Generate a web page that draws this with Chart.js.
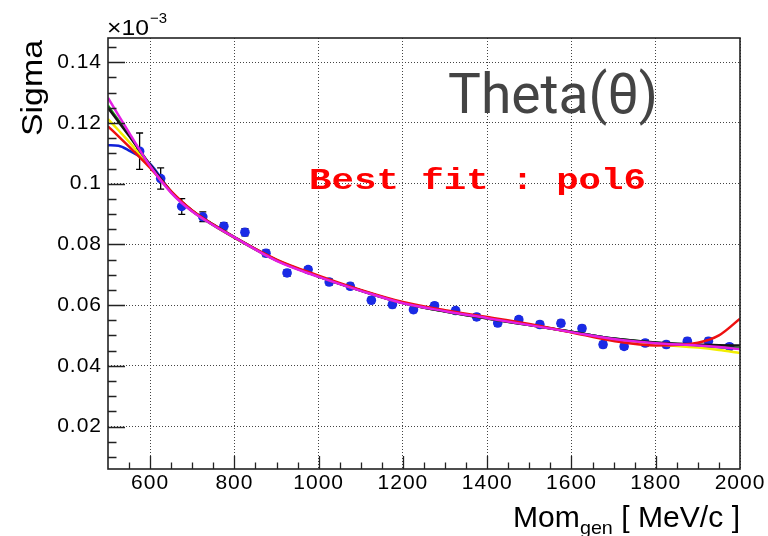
<!DOCTYPE html>
<html>
<head>
<meta charset="utf-8">
<script src="https://cdn.jsdelivr.net/npm/chart.js@4.4.0/dist/chart.umd.min.js"></script>
<style>
  html, body { margin: 0; padding: 0; background: #fff; }
  #wrap { width: 768px; height: 536px; }
</style>
</head>
<body>
<div id="wrap"><canvas id="sigmaChart" width="768" height="536"></canvas></div>
<script>
// measured sigma (x10^-3) per generated momentum bin
const momentum = [575, 625, 675, 725, 775, 825, 875, 925, 975, 1025, 1075, 1125, 1175, 1225, 1275,
    1325, 1375, 1425, 1475, 1525, 1575, 1625, 1675, 1725, 1775, 1825, 1875, 1925, 1975];
const sigma = [0.1107, 0.1017, 0.0925, 0.0891, 0.0860, 0.0840, 0.0771, 0.0706, 0.0717, 0.0676,
    0.0662, 0.0616, 0.0602, 0.0585, 0.0598, 0.0582, 0.0561, 0.0541, 0.0552, 0.0536,
    0.0540, 0.0523, 0.0470, 0.0464, 0.0475, 0.0470, 0.0481, 0.0481, 0.0463];
const sigmaErr = [0.0060, 0.0035, 0.0026, 0.0016, 0.0012, 0.0012, 0.0011, 0.0011, 0.0010, 0.0010,
    0.0010, 0.0010, 0.0010, 0.0010, 0.0010, 0.0010, 0.0010, 0.0010, 0.0010, 0.0010,
    0.0010, 0.0010, 0.0010, 0.0010, 0.0010, 0.0010, 0.0010, 0.0010, 0.0010];

// fitted curves
const fitMom = [500, 525, 550, 600, 650, 700, 750, 800, 900, 1000, 1100, 1200, 1300, 1400, 1500,
    1600, 1700, 1800, 1900, 1950, 2000];
const fitBlue = [0.1127, 0.1125, 0.1109, 0.1065, 0.0972, 0.0910, 0.0863, 0.0822, 0.0747, 0.0694,
    0.0648, 0.0607, 0.0580, 0.0557, 0.0535, 0.0512, 0.0489, 0.0475, 0.0466, 0.0461, 0.0457];
const fitYellow = [0.1213, 0.1176, 0.1138, 0.1055, 0.0972, 0.0910, 0.0863, 0.0822, 0.0747, 0.0694,
    0.0648, 0.0607, 0.0580, 0.0557, 0.0535, 0.0511, 0.0487, 0.0471, 0.0460, 0.0452, 0.0442];
const fitGreen = [0.1257, 0.1208, 0.1160, 0.1060, 0.0972, 0.0910, 0.0864, 0.0823, 0.0748, 0.0694,
    0.0648, 0.0607, 0.0579, 0.0556, 0.0534, 0.0512, 0.0490, 0.0476, 0.0467, 0.0463, 0.0458];
const fitBlack = [0.1250, 0.1204, 0.1158, 0.1062, 0.0974, 0.0911, 0.0865, 0.0824, 0.0748, 0.0694,
    0.0648, 0.0607, 0.0579, 0.0556, 0.0534, 0.0512, 0.0490, 0.0477, 0.0470, 0.0468, 0.0467];
const fitRed = [0.1189, 0.1156, 0.1122, 0.1052, 0.0975, 0.0912, 0.0865, 0.0823, 0.0750, 0.0697,
    0.0650, 0.0610, 0.0583, 0.0561, 0.0538, 0.0510, 0.0482, 0.0467, 0.0476, 0.0500, 0.0555];
const fitMagenta = [0.1283, 0.1225, 0.1168, 0.1058, 0.0970, 0.0908, 0.0863, 0.0823, 0.0746, 0.0693,
    0.0647, 0.0606, 0.0580, 0.0557, 0.0534, 0.0511, 0.0488, 0.0474, 0.0467, 0.0462, 0.0455];

const xTicks = [600, 800, 1000, 1200, 1400, 1600, 1800, 2000];
const yTicks = [0.02, 0.04, 0.06, 0.08, 0.1, 0.12, 0.14];
const yTickLabels = ['0.02', '0.04', '0.06', '0.08', '0.1', '0.12', '0.14'];

const toPoints = (xs, ys) => xs.map((x, i) => ({ x: x, y: ys[i] }));

function fitLine(label, values, color, order) {
    return {
        label: label,
        data: toPoints(fitMom, values),
        borderColor: color,
        borderWidth: 2.5,
        pointRadius: 0,
        fill: false,
        cubicInterpolationMode: 'monotone',
        order: order
    };
}

// draw text squeezed/stretched to a given width
function fitText(ctx, text, x, y, width) {
    const w = ctx.measureText(text).width;
    ctx.save();
    ctx.translate(x, y);
    ctx.scale(width / w, 1);
    ctx.fillText(text, 0, 0);
    ctx.restore();
}

const rootStyle = {
    id: 'rootStyle',
    beforeDraw(chart) {
        const ctx = chart.ctx;
        ctx.save();
        ctx.fillStyle = '#fff';
        ctx.fillRect(0, 0, chart.width, chart.height);
        ctx.restore();
        ctx.letterSpacing = '1px';
    },
    beforeDatasetsDraw(chart) {
        // error bars under the markers
        const ctx = chart.ctx, xs = chart.scales.x, ys = chart.scales.y;
        ctx.save();
        ctx.strokeStyle = '#000';
        ctx.lineWidth = 1.3;
        momentum.forEach((m, i) => {
            const px = xs.getPixelForValue(m);
            const top = ys.getPixelForValue(sigma[i] + sigmaErr[i]);
            const bot = ys.getPixelForValue(sigma[i] - sigmaErr[i]);
            ctx.beginPath();
            ctx.moveTo(px, top); ctx.lineTo(px, bot);
            ctx.moveTo(px - 3.5, top); ctx.lineTo(px + 3.5, top);
            ctx.moveTo(px - 3.5, bot); ctx.lineTo(px + 3.5, bot);
            ctx.stroke();
        });
        ctx.restore();
    },
    afterDraw(chart) {
        const ctx = chart.ctx, a = chart.chartArea;
        const xs = chart.scales.x, ys = chart.scales.y;
        ctx.save();
        ctx.letterSpacing = '0px';

        // frame
        ctx.strokeStyle = '#222';
        ctx.lineWidth = 1.6;
        ctx.strokeRect(a.left, a.top, a.right - a.left, a.bottom - a.top);

        // ticks inside the frame, ROOT style
        ctx.lineWidth = 1.3;
        ctx.beginPath();
        for (let v = 550; v < 2000; v += 50) {
            const px = Math.round(xs.getPixelForValue(v)) + 0.5;
            const len = v % 200 === 0 ? 13 : 6.5;
            ctx.moveTo(px, a.bottom); ctx.lineTo(px, a.bottom - len);
        }
        for (let k = 2; k <= 29; k++) {
            const v = k * 0.005;
            const py = Math.round(ys.getPixelForValue(v)) + 0.5;
            const len = k % 4 === 0 ? 17 : 8.5;
            ctx.moveTo(a.left, py); ctx.lineTo(a.left + len, py);
        }
        ctx.stroke();

        ctx.fillStyle = '#000';
        ctx.textBaseline = 'alphabetic';

        // exponent label
        ctx.font = '22px "Liberation Sans"';
        fitText(ctx, '\u00d710', 107, 35, 42);
        ctx.font = '15px "Liberation Sans"';
        fitText(ctx, '\u22123', 150, 23, 17);

        // y title
        ctx.save();
        ctx.translate(42, 136);
        ctx.rotate(-Math.PI / 2);
        ctx.font = '30px "Liberation Sans"';
        fitText(ctx, 'Sigma', 0, 0, 96);
        ctx.restore();

        // x title with subscript
        ctx.save();
        const big = '29px "Liberation Sans"', small = '19px "Liberation Sans"';
        ctx.font = big;
        const w1 = ctx.measureText('Mom').width;
        const w3 = ctx.measureText(' [ MeV/c ]').width;
        ctx.font = small;
        const w2 = ctx.measureText('gen').width;
        const total = w1 + w2 + w3, sx = 227 / total;
        ctx.translate(740 - 227, 527);
        ctx.scale(sx, 1);
        ctx.font = big;
        ctx.fillText('Mom', 0, 0);
        ctx.font = small;
        ctx.fillText('gen', w1, 7);
        ctx.font = big;
        ctx.fillText(' [ MeV/c ]', w1 + w2, 0);
        ctx.restore();

        // label text
        ctx.fillStyle = '#444';
        ctx.font = '56px Roboto';
        fitText(ctx, 'Theta(\u03b8)', 448, 113, 210);

        ctx.fillStyle = '#ff0000';
        ctx.font = 'bold 30px "Liberation Mono"';
        fitText(ctx, 'Best fit : pol6', 309, 189, 337);

        ctx.restore();
    }
};

new Chart(document.getElementById('sigmaChart').getContext('2d'), {
    type: 'line',
    data: {
        datasets: [
            {
                label: 'data',
                data: toPoints(momentum, sigma),
                showLine: false,
                pointRadius: 4.8,
                pointBackgroundColor: '#1a2ae6',
                pointBorderWidth: 0,
                order: 10
            },
            fitLine('pol1', fitBlue, '#1020d8', 6),
            fitLine('pol2', fitYellow, '#f2ee00', 5),
            fitLine('pol3', fitGreen, '#1c9c1c', 4),
            fitLine('pol4', fitBlack, '#151515', 3),
            fitLine('pol6', fitRed, '#ee1010', 2),
            fitLine('pol5', fitMagenta, '#e41ee4', 1)
        ]
    },
    options: {
        responsive: false,
        animation: false,
        layout: { padding: { left: 0, right: 28, top: 38, bottom: 0 } },
        plugins: {
            legend: { display: false },
            tooltip: { enabled: false }
        },
        scales: {
            x: {
                type: 'linear',
                min: 500,
                max: 2000,
                afterBuildTicks: scale => { scale.ticks = xTicks.map(v => ({ value: v })); },
                afterFit: scale => { scale.height = 67; },
                grid: { color: '#444', lineWidth: 1, drawTicks: false },
                border: { display: false, dash: [1, 2] },
                ticks: {
                    padding: 2,
                    maxRotation: 0,
                    color: '#000',
                    font: { family: 'Liberation Sans', size: 21 },
                    callback: v => String(v)
                }
            },
            y: {
                type: 'linear',
                min: 0.006,
                max: 0.148,
                afterBuildTicks: scale => { scale.ticks = yTicks.map(v => ({ value: v })); },
                afterFit: scale => { scale.width = 108; },
                grid: { color: '#444', lineWidth: 1, drawTicks: false },
                border: { display: false, dash: [1, 2] },
                ticks: {
                    padding: 6,
                    color: '#000',
                    font: { family: 'Liberation Sans', size: 21 },
                    callback: (v, i) => yTickLabels[i]
                }
            }
        }
    },
    plugins: [rootStyle]
});
</script>
</body>
</html>
